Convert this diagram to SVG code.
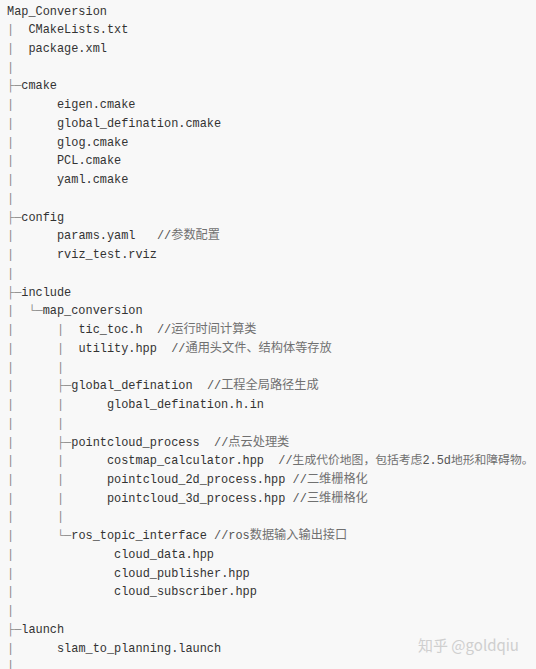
<svg xmlns="http://www.w3.org/2000/svg" width="536" height="669" viewBox="0 0 536 669">
<style>
text{font-family:"Liberation Mono","DejaVu Sans Mono","Noto Sans CJK SC",monospace;font-size:11.9px}
.t{fill:#333}
.c{fill:#555}
.k{font-family:"Noto Sans CJK SC",sans-serif;font-size:12.2px;fill:#707070}
.k2{font-family:"Noto Sans CJK SC",sans-serif;font-size:11.8px;fill:#707070}
.g{fill:#8a8a8a}
.wm{font-family:"Noto Sans CJK SC","Liberation Sans",sans-serif;font-size:15px;fill:#cfcfcf}
</style>
<rect width="536" height="669" fill="#f8f8f8"/>
<g id="connectors">
<text class="g" x="7" y="33.24">|</text>
<text class="g" x="7" y="51.98">|</text>
<text class="g" x="7" y="70.72">|</text>
<text class="g" x="7" y="89.46">├─</text>
<text class="g" x="7" y="108.2">|</text>
<text class="g" x="7" y="126.94">|</text>
<text class="g" x="7" y="145.68">|</text>
<text class="g" x="7" y="164.42">|</text>
<text class="g" x="7" y="183.16">|</text>
<text class="g" x="7" y="201.9">|</text>
<text class="g" x="7" y="220.64">├─</text>
<text class="g" x="7" y="239.38">|</text>
<text class="g" x="7" y="258.12">|</text>
<text class="g" x="7" y="276.86">|</text>
<text class="g" x="7" y="295.6">├─</text>
<text class="g" x="7" y="314.34">|</text>
<text class="g" x="28.42" y="314.34">└─</text>
<text class="g" x="7" y="333.08">|</text><text class="g" x="56.98" y="333.08">|</text>
<text class="g" x="7" y="351.82">|</text><text class="g" x="56.98" y="351.82">|</text>
<text class="g" x="7" y="370.56">|</text><text class="g" x="56.98" y="370.56">|</text>
<text class="g" x="7" y="389.3">|</text><text class="g" x="56.98" y="389.3">├─</text>
<text class="g" x="7" y="408.04">|</text><text class="g" x="56.98" y="408.04">|</text>
<text class="g" x="7" y="426.78">|</text><text class="g" x="56.98" y="426.78">|</text>
<text class="g" x="7" y="445.52">|</text><text class="g" x="56.98" y="445.52">├─</text>
<text class="g" x="7" y="464.26">|</text><text class="g" x="56.98" y="464.26">|</text>
<text class="g" x="7" y="483">|</text><text class="g" x="56.98" y="483">|</text>
<text class="g" x="7" y="501.74">|</text><text class="g" x="56.98" y="501.74">|</text>
<text class="g" x="7" y="520.48">|</text><text class="g" x="56.98" y="520.48">|</text>
<text class="g" x="7" y="539.22">|</text><text class="g" x="56.98" y="539.22">└─</text>
<text class="g" x="7" y="557.96">|</text>
<text class="g" x="7" y="576.7">|</text>
<text class="g" x="7" y="595.44">|</text>
<text class="g" x="7" y="614.18">|</text>
<text class="g" x="7" y="632.92">├─</text>
<text class="g" x="7" y="651.66">|</text>
<text class="g" x="7" y="668.5">|</text>
</g>
<g id="root"><text class="t" x="7" y="14.5">Map_Conversion</text></g>
<g id="cmakelists"><text class="t" x="28.42" y="33.24">CMakeLists.txt</text></g>
<g id="package"><text class="t" x="28.42" y="51.98">package.xml</text></g>
<g id="cmake"><text class="t" x="21.28" y="89.46">cmake</text></g>
<g id="eigen"><text class="t" x="56.98" y="108.2">eigen.cmake</text></g>
<g id="global-cmake"><text class="t" x="56.98" y="126.94">global_defination.cmake</text></g>
<g id="glog"><text class="t" x="56.98" y="145.68">glog.cmake</text></g>
<g id="pcl"><text class="t" x="56.98" y="164.42">PCL.cmake</text></g>
<g id="yaml"><text class="t" x="56.98" y="183.16">yaml.cmake</text></g>
<g id="config"><text class="t" x="21.28" y="220.64">config</text></g>
<g id="params"><text class="t" x="56.98" y="239.38">params.yaml</text><text class="c" x="156.94" y="239.38">//<tspan class="k">参数配置</tspan></text></g>
<g id="rviz"><text class="t" x="56.98" y="258.12">rviz_test.rviz</text></g>
<g id="include"><text class="t" x="21.28" y="295.6">include</text></g>
<g id="map-conversion"><text class="t" x="42.7" y="314.34">map_conversion</text></g>
<g id="tictoc"><text class="t" x="78.4" y="333.08">tic_toc.h</text><text class="c" x="156.94" y="333.08">//<tspan class="k">运行时间计算类</tspan></text></g>
<g id="utility"><text class="t" x="78.4" y="351.82">utility.hpp</text><text class="c" x="171.22" y="351.82">//<tspan class="k">通用头文件、结构体等存放</tspan></text></g>
<g id="global-def"><text class="t" x="71.26" y="389.3">global_defination</text><text class="c" x="206.92" y="389.3">//<tspan class="k">工程全局路径生成</tspan></text></g>
<g id="global-def-h"><text class="t" x="106.96" y="408.04">global_defination.h.in</text></g>
<g id="pointcloud-process"><text class="t" x="71.26" y="445.52">pointcloud_process</text><text class="c" x="214.06" y="445.52">//<tspan class="k">点云处理类</tspan></text></g>
<g id="costmap"><text class="t" x="106.96" y="464.26">costmap_calculator.hpp</text><text class="c" x="278.32" y="464.26">//<tspan class="k2">生成代价地图，包括考虑</tspan>2.5d<tspan class="k2">地形和障碍物。</tspan></text></g>
<g id="pc2d"><text class="t" x="106.96" y="483">pointcloud_2d_process.hpp</text><text class="c" x="292.6" y="483">//<tspan class="k">二维栅格化</tspan></text></g>
<g id="pc3d"><text class="t" x="106.96" y="501.74">pointcloud_3d_process.hpp</text><text class="c" x="292.6" y="501.74">//<tspan class="k">三维栅格化</tspan></text></g>
<g id="ros-topic"><text class="t" x="71.26" y="539.22">ros_topic_interface</text><text class="c" x="214.06" y="539.22">//ros<tspan class="k">数据输入输出接口</tspan></text></g>
<g id="cloud-data"><text class="t" x="114.1" y="557.96">cloud_data.hpp</text></g>
<g id="cloud-pub"><text class="t" x="114.1" y="576.7">cloud_publisher.hpp</text></g>
<g id="cloud-sub"><text class="t" x="114.1" y="595.44">cloud_subscriber.hpp</text></g>
<g id="launch"><text class="t" x="21.28" y="632.92">launch</text></g>
<g id="slam-launch"><text class="t" x="56.98" y="651.66">slam_to_planning.launch</text></g>
<g id="watermark"><text class="wm" x="418" y="651">知乎 @goldqiu</text></g>
</svg>
